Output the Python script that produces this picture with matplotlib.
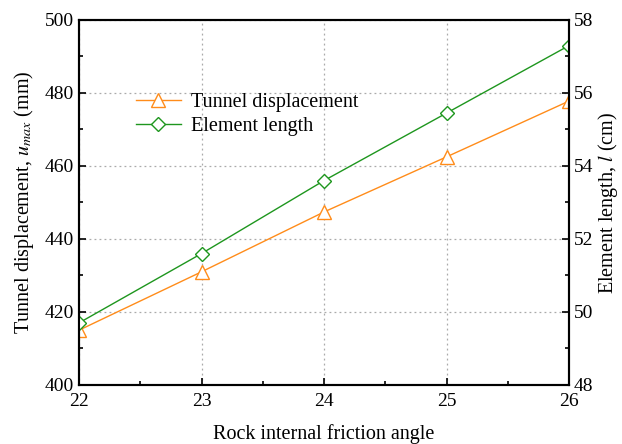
import numpy as np
import matplotlib
matplotlib.use('Agg')
import matplotlib.pyplot as plt
from matplotlib.ticker import MultipleLocator

plt.rcParams['font.family'] = ['Liberation Serif', 'DejaVu Serif']
plt.rcParams['mathtext.fontset'] = 'stix'

# Friction angle vs. tunnel displacement and element length
friction_angle = [22, 23, 24, 25, 26]
tunnel_disp = [415.0, 431.0, 447.4, 462.5, 477.8]
element_len = [49.7, 51.6, 53.6, 55.45, 57.3]

c_disp = '#ff8c1a'
c_len = '#1e961e'

fig = plt.figure(figsize=(6.22, 4.44), dpi=100)
ax = fig.add_axes([0.127, 0.133, 0.788, 0.822])
ax2 = ax.twinx()

l1, = ax.plot(friction_angle, tunnel_disp, color=c_disp, lw=1.0, marker='^',
              ms=10, mfc='white', mec=c_disp, mew=1.0, label='Tunnel displacement')
l2, = ax2.plot(friction_angle, element_len, color=c_len, lw=1.0, marker='D',
               ms=7, mfc='white', mec=c_len, mew=1.0, label='Element length')

ax.set_xlim(22, 26)
ax.set_ylim(400, 500)
ax2.set_ylim(48, 58)

ax.xaxis.set_major_locator(MultipleLocator(1))
ax.xaxis.set_minor_locator(MultipleLocator(0.5))
ax.yaxis.set_major_locator(MultipleLocator(20))
ax.yaxis.set_minor_locator(MultipleLocator(10))
ax2.yaxis.set_major_locator(MultipleLocator(2))
ax2.yaxis.set_minor_locator(MultipleLocator(1))

for a in (ax, ax2):
    a.tick_params(which='both', direction='in', labelsize=14, width=1.2)
    a.tick_params(which='major', length=5)
    a.tick_params(which='minor', length=3)
    for s in a.spines.values():
        s.set_linewidth(1.5)
ax.tick_params(axis='x', pad=6)

ax.grid(True, which='major', ls=(0, (1.5, 2.5)), color='#aaaaaa', lw=0.9)
ax.set_axisbelow(True)

ax.set_xlabel('Rock internal friction angle', fontsize=14.5, labelpad=10)
ax.set_ylabel('Tunnel displacement, $u_{max}$ (mm)', fontsize=14.5, labelpad=6)
ax2.set_ylabel('Element length, $l$ (cm)', fontsize=14.5, labelpad=2)

ax.legend(handles=[l1, l2], loc='upper left', bbox_to_anchor=(0.08, 0.85),
          frameon=False, fontsize=14.5, handlelength=2.2, handletextpad=0.5,
          labelspacing=0.25)

fig.savefig('out.png', dpi=100)
